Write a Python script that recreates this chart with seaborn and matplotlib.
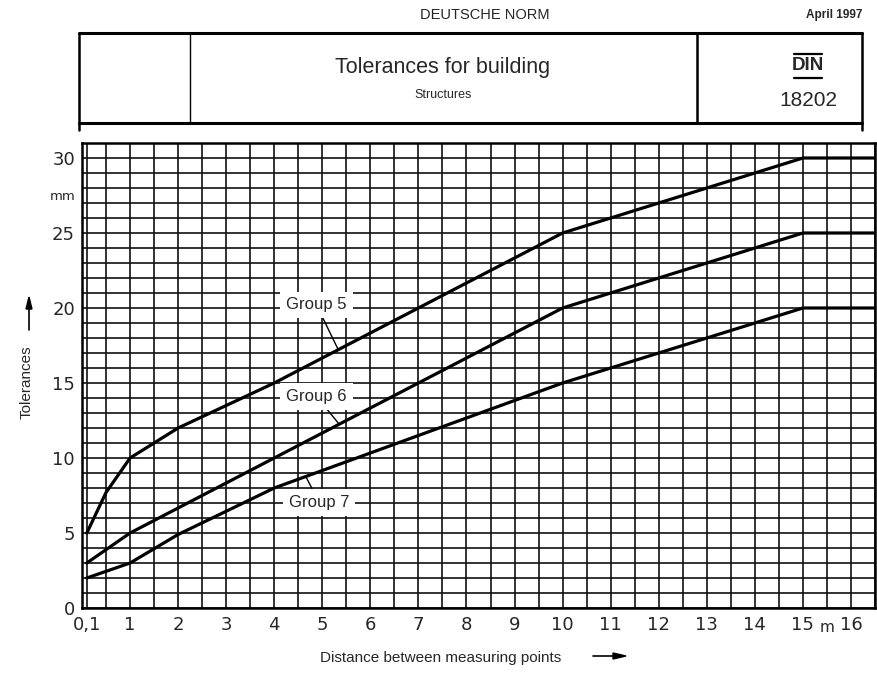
import numpy as np
import pandas as pd
import seaborn as sns
import matplotlib.pyplot as plt
from matplotlib.lines import Line2D
from matplotlib.ticker import MultipleLocator

# values
g5_x = [0.1, 0.5, 1, 2, 4, 10, 15, 16.5]
g5_y = [5, 7.7, 10, 12, 15, 25, 30, 30]
g6_x = [0.1, 1, 4, 10, 15, 16.5]
g6_y = [3, 5, 10, 20, 25, 25]
g7_x = [0.1, 1, 2, 4, 10, 15, 16.5]
g7_y = [2, 3, 4.9, 8, 15, 20, 20]

group_names = ["Group 5", "Group 6", "Group 7"]
x_ticks = [0.1] + list(range(1, 17))
x_ticklabels = ["0,1"] + [str(i) for i in range(1, 17)]
y_ticks = [0, 5, 10, 15, 20, 25, 30]

df = pd.concat([
    pd.DataFrame({"dist": g5_x, "tol": g5_y, "group": "Group 5"}),
    pd.DataFrame({"dist": g6_x, "tol": g6_y, "group": "Group 6"}),
    pd.DataFrame({"dist": g7_x, "tol": g7_y, "group": "Group 7"}),
], ignore_index=True)

sns.set_style("white")
plt.rcParams['font.family'] = ['Liberation Sans', 'DejaVu Sans']

W, H = 877, 673
fig = plt.figure(figsize=(W / 100, H / 100), dpi=100)
ax = fig.add_axes([82 / W, 1 - 608 / H, (875 - 82) / W, (608 - 143) / H])

sns.lineplot(data=df, x="dist", y="tol", units="group", estimator=None,
             color="black", lw=2.3, ax=ax, legend=False, zorder=3)

ax.set_xlim(0, 16.5)
ax.set_ylim(0, 31)
ax.xaxis.set_minor_locator(MultipleLocator(0.5))
ax.yaxis.set_minor_locator(MultipleLocator(1))
ax.set_xticks(x_ticks)
ax.set_xticklabels(x_ticklabels)
ax.set_yticks(y_ticks)
ax.grid(True, which="both", color="#111111", lw=1.2)
ax.set_axisbelow(True)
ax.tick_params(which="both", length=0, labelsize=13)
ax.tick_params(axis="y", pad=5)
ax.tick_params(axis="x", pad=6)
for lab in ax.get_xticklabels() + ax.get_yticklabels():
    lab.set_family("DejaVu Sans")
for s in ax.spines.values():
    s.set_color("black")
    s.set_linewidth(1.8)
ax.set_xlabel("")
ax.set_ylabel("")

# unit labels
ax.text(15.5, -0.8, "m", ha="center", va="top", fontsize=11, family="DejaVu Sans")
ax.text(-0.14, 27.4, "mm", ha="right", va="center", fontsize=9.5, family="DejaVu Sans")

# group labels with leader lines
lab_kw = dict(fontsize=12, ha="center", va="center", zorder=5,
              bbox=dict(boxstyle="square,pad=0.35", fc="white", ec="none"),
              arrowprops=dict(arrowstyle="-", color="black", lw=1.0,
                              shrinkA=0, shrinkB=0))
ax.annotate(group_names[0], xy=(5.32, 17.3), xytext=(4.88, 20.2), **lab_kw)
ax.annotate(group_names[1], xy=(5.34, 12.3), xytext=(4.88, 14.1), **lab_kw)
ax.annotate(group_names[2], xy=(4.66, 8.75), xytext=(4.93, 7.05), **lab_kw)

# axis titles with arrows
fig.text(27 / W, 1 - 382 / H, "Tolerances", rotation=90, ha="center", va="center", fontsize=11)
fig.add_artist(Line2D([29 / W, 29 / W], [1 - 330 / H, 1 - 308 / H], color="black", lw=1.2))
fig.patches.append(plt.Polygon([[26 / W, 1 - 309 / H], [32 / W, 1 - 309 / H], [29 / W, 1 - 297 / H]],
                               closed=True, color="black", transform=fig.transFigure, figure=fig))
fig.text(441 / W, 1 - 658 / H, "Distance between measuring points", ha="center", va="center", fontsize=11)
fig.add_artist(Line2D([593 / W, 614 / W], [1 - 656 / H, 1 - 656 / H], color="black", lw=1.2))
fig.patches.append(plt.Polygon([[613 / W, 1 - 653 / H], [613 / W, 1 - 659 / H], [626 / W, 1 - 656 / H]],
                               closed=True, color="black", transform=fig.transFigure, figure=fig))

# header block
fig.text(485 / W, 1 - 15 / H, "DEUTSCHE NORM", ha="center", va="center", fontsize=10.5)
fig.text(862 / W, 1 - 15 / H, "April 1997", ha="right", va="center", fontsize=8.5, weight="bold")


def hline(x0, x1, y, lw):
    fig.add_artist(Line2D([x0 / W, x1 / W], [1 - y / H, 1 - y / H], color="black", lw=lw))


def vline(x, y0, y1, lw):
    fig.add_artist(Line2D([x / W, x / W], [1 - y0 / H, 1 - y1 / H], color="black", lw=lw))


hline(79, 862, 33, 2.2)
hline(79, 862, 123, 2.2)
vline(79, 33, 130, 1.8)
vline(862, 33, 130, 1.8)
vline(190, 33, 123, 1.0)
vline(697, 33, 123, 1.8)

fig.text(443 / W, 1 - 68 / H, "Tolerances for building", ha="center", va="center", fontsize=15.5)
fig.text(443 / W, 1 - 95 / H, "Structures", ha="center", va="center", fontsize=9)
fig.text(808 / W, 1 - 66 / H, "DIN", ha="center", va="center", fontsize=13.5, weight="bold")
hline(794, 822, 54, 1.6)
hline(794, 822, 78, 1.6)
fig.text(808 / W, 1 - 101 / H, "18202", ha="center", va="center", fontsize=15)

fig.savefig("out.png", dpi=100)
